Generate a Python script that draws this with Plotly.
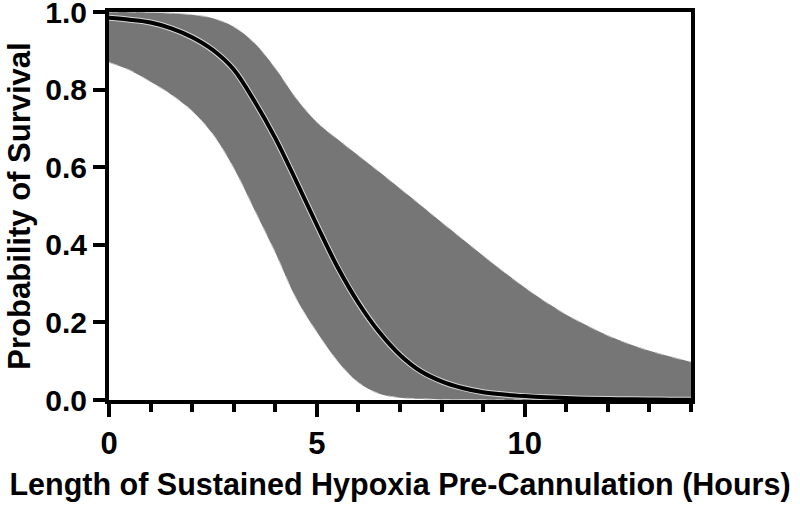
import plotly.graph_objects as go

hours = [0, 0.5, 1, 1.5, 2, 2.5, 3, 3.5, 4, 4.5, 5, 5.5, 6, 6.5, 7, 7.5, 8, 8.5, 9,
         9.5, 10, 10.5, 11, 11.5, 12, 12.5, 13, 13.5, 14]

survival = [0.985, 0.98, 0.973, 0.958, 0.935, 0.902, 0.852, 0.77, 0.675, 0.565, 0.451,
            0.342, 0.25, 0.175, 0.116, 0.074, 0.048, 0.031, 0.02, 0.014, 0.01,
            0.007, 0.005, 0.0035, 0.0025, 0.0018, 0.0012, 0.0009, 0.0006]

upper_ci = [1.0, 1.0, 0.999, 0.997, 0.993, 0.984, 0.962, 0.92, 0.855, 0.778, 0.716,
            0.672, 0.63, 0.588, 0.545, 0.502, 0.458, 0.415, 0.372, 0.33, 0.29,
            0.253, 0.22, 0.192, 0.166, 0.145, 0.127, 0.112, 0.098]

lower_ci = [0.87, 0.85, 0.82, 0.787, 0.745, 0.685, 0.598, 0.49, 0.38, 0.262, 0.175,
            0.1, 0.045, 0.016, 0.006, 0.003, 0.0015, 0.001, 0.0005, 0.0003, 0.0002,
            0.0001, 0.0001, 0, 0, 0, 0, 0, 0]

x_ticks = [0, 5, 10]
y_ticks = [0.0, 0.2, 0.4, 0.6, 0.8, 1.0]
y_tick_text = ["0.0", "0.2", "0.4", "0.6", "0.8", "1.0"]

FONT = "Liberation Sans, Arial, Helvetica, sans-serif"
band_color = "rgb(118,118,118)"

fig = go.Figure()
fig.add_trace(go.Scatter(x=hours, y=upper_ci, mode="lines",
                         line=dict(color="rgb(200,200,200)", width=1, dash="dash", shape="spline"),
                         hoverinfo="skip", showlegend=False))
fig.add_trace(go.Scatter(x=hours, y=lower_ci, mode="lines", fill="tonexty",
                         fillcolor=band_color,
                         line=dict(color="rgb(200,200,200)", width=1, dash="dash", shape="spline"),
                         hoverinfo="skip", showlegend=False))
fig.add_trace(go.Scatter(x=hours, y=survival, mode="lines",
                         line=dict(color="rgb(215,215,215)", width=6, shape="spline"),
                         hoverinfo="skip", showlegend=False))
fig.add_trace(go.Scatter(x=hours, y=survival, mode="lines",
                         line=dict(color="black", width=4, shape="spline"),
                         showlegend=False))

fig.update_layout(
    width=800, height=506,
    margin=dict(l=109, r=109, t=12, b=106),
    paper_bgcolor="white", plot_bgcolor="white",
    font=dict(family=FONT, color="black"),
)
fig.update_xaxes(
    range=[0, 14], tickvals=x_ticks, ticks="outside", ticklen=13, tickwidth=4,
    tickcolor="black", showline=True, linewidth=4, linecolor="black", mirror=True,
    showgrid=False, zeroline=False, automargin=False, ticklabeloverflow="allow",
    tickfont=dict(family=FONT, size=31, color="black", weight="bold"),
    minor=dict(dtick=1, ticks="outside", ticklen=8, tickwidth=4, tickcolor="black", showgrid=False),
    title=dict(text="Length of Sustained Hypoxia Pre-Cannulation (Hours)",
               font=dict(family=FONT, size=30.5, color="black", weight="bold"), standoff=14),
)
fig.update_yaxes(
    range=[0, 1], tickvals=y_ticks, ticktext=y_tick_text, ticks="outside", ticklen=12,
    tickwidth=4, tickcolor="black", showline=True, linewidth=4, linecolor="black",
    mirror=True, showgrid=False, zeroline=False, automargin=False, ticklabeloverflow="allow",
    tickfont=dict(family=FONT, size=30, color="black", weight="bold"),
    title=dict(text="Probability of Survival",
               font=dict(family=FONT, size=31, color="black", weight="bold"), standoff=6),
)

fig.write_html("out.html", config={"displayModeBar": False},
               post_script="document.body.style.margin='0';")
